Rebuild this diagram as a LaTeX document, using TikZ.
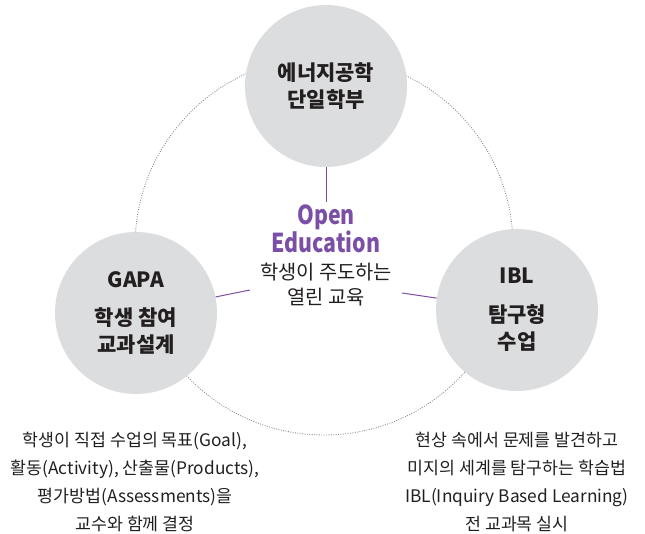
\documentclass[tikz,border=0pt]{standalone}
\usepackage{graphicx}
\usepackage{fontspec}
\setmainfont{Noto Sans CJK KR}
\definecolor{circgray}{HTML}{DCDDDF}
\definecolor{purp}{HTML}{7B4FA6}
\definecolor{txt}{HTML}{231F20}
\definecolor{ringgray}{HTML}{8A8A8A}
\begin{document}
\begin{tikzpicture}[x=1pt,y=-1pt,
  bigc/.style={circle, fill=circgray, minimum size=162pt, inner sep=0pt, align=center, text=txt,
    font=\bfseries\fontsize{21}{27}\selectfont},
  link/.style={draw=purp, line width=1pt},
  ring/.style={draw=ringgray, line width=0.9pt, dash pattern=on 0.9pt off 1.5pt},
  desc/.style={align=center, text=txt, font=\fontsize{17.3}{28}\selectfont},
  mid/.style={align=center, text=txt, font=\fontsize{19.8}{25}\selectfont},
  openlbl/.style={align=center, text=purp, font=\bfseries\fontsize{26}{23}\selectfont}]
\useasboundingbox (0,0) rectangle (645,534);
\draw[ring] (324,246) circle[radius=189pt];
\node[bigc] (top) at (326,86) {에너지공학\\단일학부};
\node[bigc] (left) at (136,313) {GAPA\\[11pt]학생 참여\\교과설계};
\node[bigc] (right) at (517,310) {IBL\\[12pt]탐구형\\수업};
\node[openlbl] (open) at (326,229) {\scalebox{0.82}[1]{Open}\\\scalebox{0.82}[1]{Education}};
\node[mid] (center) at (326,285) {학생이 주도하는\\열린 교육};
\coordinate (ctop) at (326,202);
\coordinate (cleft) at (250,290);
\coordinate (cright) at (402,293);
\draw[link] (top.south) -- (ctop);
\draw[link] (cleft) -- (left);
\draw[link] (cright) -- (right);
\node[desc] (gapadesc) at (135,482) {학생이 직접 수업의 목표(Goal),\\활동(Activity), 산출물(Products),\\평가방법(Assessments)을\\교수와 함께 결정};
\node[desc] (ibldesc) at (517,482) {현상 속에서 문제를 발견하고\\미지의 세계를 탐구하는 학습법\\IBL(Inquiry Based Learning)\\전 교과목 실시};
\end{tikzpicture}
\end{document}
